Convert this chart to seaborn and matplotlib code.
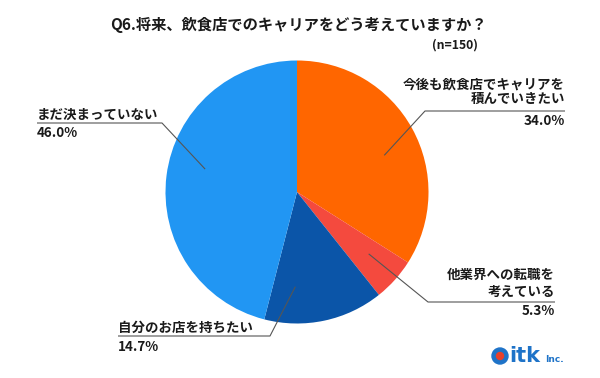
import numpy as np
import matplotlib
matplotlib.use("Agg")
import matplotlib.pyplot as plt
import seaborn as sns

# ---- data ----
categories = ["今後も飲食店でキャリアを\n積んでいきたい", "他業界への転職を\n考えている", "自分のお店を持ちたい", "まだ決まっていない"]
values = [34.0, 5.3, 14.7, 46.0]
pct_labels = ["34.0%", "5.3%", "14.7%", "46.0%"]
title = "Q6.将来、飲食店でのキャリアをどう考えていますか？"
note = "(n=150)"

sns.set_theme(style="white")
plt.rcParams['font.family'] = ['Noto Sans CJK JP', 'DejaVu Sans']

colors = ["#FF6600", "#F44A3E", "#0B55A8", "#2196F3"]

W, H = 600, 378
fig = plt.figure(figsize=(6, 3.78), dpi=100)
ax = fig.add_axes([0, 0, 1, 1])
ax.set_xlim(0, W)
ax.set_ylim(H, 0)
ax.axis("off")

cx, cy, R = 297, 192, 131.5
# y axis inverted: data angle -90 is screen top; data ccw = screen clockwise
wedges, _ = ax.pie(values, colors=colors, startangle=-90, counterclock=True,
                   center=(cx, cy), radius=R, frame=True,
                   wedgeprops=dict(linewidth=0))
ax.set_xlim(0, W)
ax.set_ylim(H, 0)
ax.axis("off")
ax.set_aspect("auto")

# layout: anchor angles, elbows, text anchors
anchor_frac = 0.72
anchor_ang = [22.8, -40.8, -91.0, 166.0]  # screen angles (deg, ccw from +x, y up)
elbow = [(425, 111), (428, 302), (270, 336), (162, 123)]
line_end = [565, 555, 118, 37]
align = ["right", "right", "left", "left"]
name_y = [[85, 98.5], [275, 292], [328], [115]]
pct_y = [121, 311, 347, 133]

lc = "#555555"
tc = "#1a1a1a"
fs = 9.7
for i in range(len(values)):
    a = np.deg2rad(anchor_ang[i])
    ax_, ay_ = cx + anchor_frac * R * np.cos(a), cy - anchor_frac * R * np.sin(a)
    ex, ey = elbow[i]
    ax.plot([ax_, ex, line_end[i]], [ay_, ey, ey], color=lc, lw=0.8, solid_capstyle="butt")
    xt = line_end[i]
    lines = categories[i].split("\n")
    for ln, yy in zip(lines, name_y[i]):
        ax.text(xt, yy, ln, ha=align[i], va="center", fontsize=fs, fontweight="bold", color=tc)
    ax.text(xt, pct_y[i], pct_labels[i], ha=align[i], va="center", fontsize=fs, fontweight="bold", color=tc)

ax.text(298, 25, title, ha="center", va="center", fontsize=11, fontweight="bold", color=tc)
ax.text(478, 45, note, ha="right", va="center", fontsize=8.8, fontweight="bold", color=tc)

# logo
ax.add_patch(plt.Circle((500, 356), 8, color="#1E73C8"))
ax.add_patch(plt.Circle((500, 356), 3.5, color="#E8402A"))
ax.text(509, 356, "itk", ha="left", va="center", fontsize=15, fontweight="bold", color="#1E73C8",
        family=["DejaVu Sans"])
ax.text(545, 360, "Inc.", ha="left", va="center", fontsize=6.5, fontweight="bold", color="#1E73C8",
        family=["DejaVu Sans"])

fig.savefig("out.png", dpi=100)
